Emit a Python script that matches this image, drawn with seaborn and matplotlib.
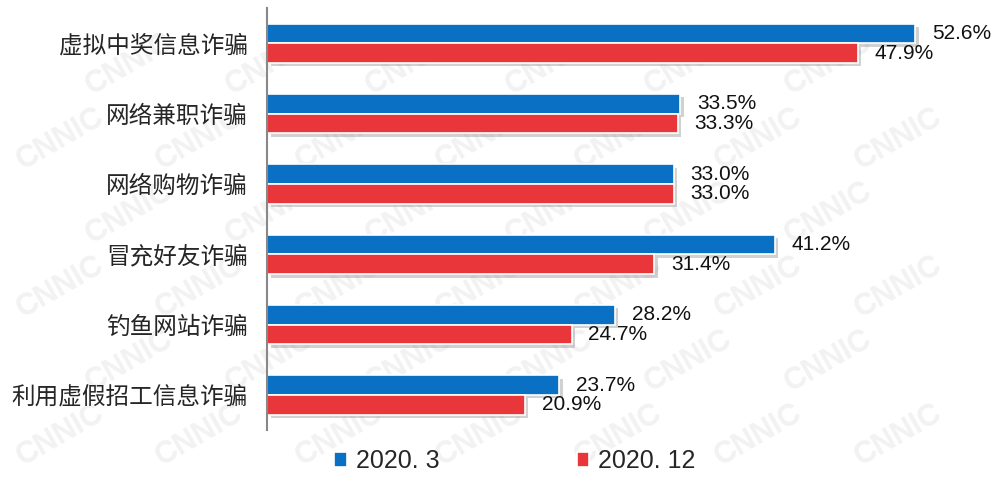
import pandas as pd
import matplotlib as mpl
import matplotlib.pyplot as plt
import matplotlib.patheffects as pe
import numpy as np
import seaborn as sns

categories = ["虚拟中奖信息诈骗", "网络兼职诈骗", "网络购物诈骗",
              "冒充好友诈骗", "钓鱼网站诈骗", "利用虚假招工信息诈骗"]
series = ["2020. 3", "2020. 12"]
values_2020_3 = [52.6, 33.5, 33.0, 41.2, 28.2, 23.7]
values_2020_12 = [47.9, 33.3, 33.0, 31.4, 24.7, 20.9]
colors = ["#0A70C4", "#E8363A"]

df = pd.DataFrame({
    "category": categories * 2,
    "period": [series[0]] * len(categories) + [series[1]] * len(categories),
    "value": values_2020_3 + values_2020_12,
})

sns.set_style("white")
plt.rcParams['font.family'] = ['Liberation Sans', 'Noto Sans CJK SC', 'DejaVu Sans']
mpl.rcParams['axes.unicode_minus'] = False

fig = plt.figure(figsize=(9.98, 4.78), dpi=100)

# faint CNNIC watermark behind the chart
rows = np.arange(0.09, 0.95, 0.155)
for i, yy in enumerate(rows):
    start = 0.06 if i % 2 == 0 else 0.13
    for xx in np.arange(start, 0.95, 0.14):
        fig.text(xx, yy, "CNNIC", fontsize=22, fontweight="bold",
                 color="#f2f2f2", rotation=30, ha="center", va="center",
                 zorder=-5)

ax = fig.add_axes([0.268, 0.100, 0.732, 0.883])
ax.patch.set_alpha(0)

sns.barplot(data=df, y="category", x="value", hue="period", orient="h",
            palette=colors, width=0.56, ax=ax, edgecolor="white",
            linewidth=1.2, saturation=1)

for bars in ax.containers:
    for b in bars:
        b.set_path_effects([pe.SimplePatchShadow(offset=(2.5, -2.5),
                                                 shadow_rgbFace="#999999",
                                                 alpha=0.45),
                            pe.Normal()])
    ax.bar_label(bars, labels=[f"{v:.1f}%" for v in bars.datavalues],
                 padding=12, fontsize=15, color="#111111")

ax.set_xlim(0, 59.3)
ax.set_ylim(5.5, -0.5)
ax.set_xlabel("")
ax.set_ylabel("")
ax.set_xticks([])

ax.set_yticks(range(len(categories)))
ax.set_yticklabels(categories, fontsize=17, family=['Noto Sans CJK SC', 'DejaVu Sans'])
ax.tick_params(axis="y", which="major", length=0, pad=14)
ax.set_yticks(np.arange(-0.5, len(categories), 1), minor=True)
ax.tick_params(axis="y", which="minor", direction="in", length=6,
               width=1.2, color="#888888")

for s in ["top", "right", "bottom"]:
    ax.spines[s].set_visible(False)
ax.spines["left"].set_color("#888888")
ax.spines["left"].set_linewidth(1.5)

handles, labels = ax.get_legend_handles_labels()
ax.legend(handles, labels, loc="center", bbox_to_anchor=(0.516, 0.035),
          bbox_transform=fig.transFigure, ncol=2, frameon=False,
          fontsize=18, handlelength=0.5, handleheight=0.5,
          handletextpad=0.35, columnspacing=5.5)

plt.savefig("out.png", dpi=100)
